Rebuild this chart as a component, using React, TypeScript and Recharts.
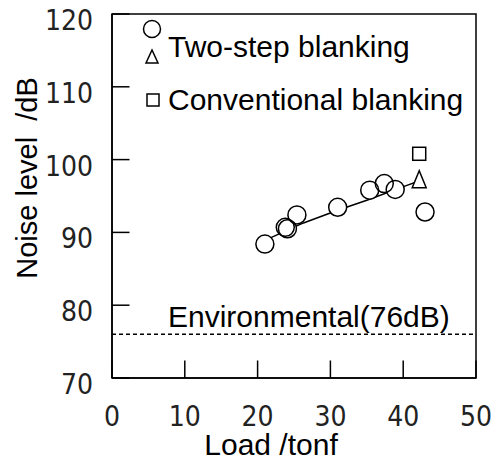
import {
  Legend,
  ReferenceArea,
  ReferenceLine,
  Scatter,
  ScatterChart,
  XAxis,
  YAxis,
} from "recharts";

// two-step blanking (circles)
const twoStepLoad = [21.0, 23.8, 24.1, 25.4, 31.0, 35.4, 37.4, 38.9, 43.0];
const twoStepNoise = [88.4, 90.7, 90.5, 92.4, 93.45, 95.8, 96.7, 95.9, 92.8];

// two-step blanking (triangle)
const triangleLoad = [42.2];
const triangleNoise = [97.1];

// conventional blanking (square)
const conventionalLoad = [42.2];
const conventionalNoise = [100.8];

// fitted trend line
const trendLoad = [21.0, 26.3, 29.8, 32.6, 35.1, 40.6, 42.0];
const trendNoise = [88.9, 91.3, 92.6, 93.6, 94.45, 96.5, 97.0];

const environmentalLevel = 76;
const environmentalLabel = "Environmental(76dB)";

const xTicks = [0, 10, 20, 30, 40, 50];
const yTicks = [70, 80, 90, 100, 110, 120];
const legendLabels = ["Two-step blanking", "Conventional blanking"];

const toPoints = (xs: number[], ys: number[]) =>
  xs.map((x, i) => ({ x, y: ys[i] }));

const TEXT_FONT = "'Liberation Sans', Arial, sans-serif";
const TICK_FONT = "'Liberation Sans Narrow', 'Arial Narrow', 'DejaVu Sans Condensed', sans-serif";
const TICK_LEN = 17.5;

const Circle = (p: any) => (
  <circle cx={p.cx} cy={p.cy} r={9} fill="none" stroke="#000" strokeWidth={1.5} />
);
const CircleBg = (p: any) => <circle cx={p.cx} cy={p.cy} r={9} fill="#fff" />;
const Triangle = (p: any) => (
  <polygon
    points={`${p.cx},${p.cy - 10} ${p.cx - 7},${p.cy + 7} ${p.cx + 7},${p.cy + 7}`}
    fill="#fff"
    stroke="#000"
    strokeWidth={1.5}
  />
);
const Square = (p: any) => (
  <rect x={p.cx - 6.5} y={p.cy - 6.5} width={13} height={13} fill="#fff" stroke="#000" strokeWidth={1.5} />
);

// ticks point inward, labels sit a little off the axis
const XTick = (p: any) => (
  <g>
    <line x1={p.x} x2={p.x} y1={p.y} y2={p.y - TICK_LEN} stroke="#000" strokeWidth={1.5} />
    <text x={p.x} y={p.y + 48} textAnchor="middle" fontFamily={TICK_FONT} fontSize={28} fill="#222">
      {p.payload.value}
    </text>
  </g>
);
const YTick = (p: any) => (
  <g>
    <line x1={p.x} x2={p.x + TICK_LEN} y1={p.y} y2={p.y} stroke="#000" strokeWidth={1.5} />
    <text x={p.x - 19} y={p.y + 16} textAnchor="end" fontFamily={TICK_FONT} fontSize={28} fill="#222">
      {p.payload.value}
    </text>
  </g>
);

const LegendBox = () => (
  <svg width={492} height={130}>
    <circle cx={152} cy={29} r={8.5} fill="none" stroke="#000" strokeWidth={1.5} />
    <polygon points="152,50 146,63 158,63" fill="none" stroke="#000" strokeWidth={1.5} />
    <text x={168} y={57} fontFamily={TEXT_FONT} fontSize={30} fill="#000">
      {legendLabels[0]}
    </text>
    <rect x={147} y={94} width={12} height={12} fill="none" stroke="#000" strokeWidth={1.5} />
    <text x={168} y={110} fontFamily={TEXT_FONT} fontSize={30} fill="#000">
      {legendLabels[1]}
    </text>
  </svg>
);

export default function App() {
  return (
    <div style={{ position: "absolute", left: 0, top: 0 }}>
      <ScatterChart width={492} height={461} margin={{ top: 14, right: 16, bottom: 0, left: 0 }}>
        <XAxis
          type="number"
          dataKey="x"
          domain={[0, 50]}
          ticks={xTicks}
          interval={0}
          height={83}
          tickSize={0}
          tickMargin={0}
          tickLine={false}
          stroke="#000"
          strokeWidth={1.5}
          tick={XTick}
          label={({ viewBox }: any) => (
            <text
              x={viewBox.x + viewBox.width / 2 - 23}
              y={455}
              textAnchor="middle"
              fontFamily={TEXT_FONT}
              fontSize={30}
              fill="#000"
            >
              Load /tonf
            </text>
          )}
        />
        <YAxis
          type="number"
          dataKey="y"
          domain={[70, 120]}
          ticks={yTicks}
          interval={0}
          width={112}
          tickSize={0}
          tickMargin={0}
          tickLine={false}
          stroke="#000"
          strokeWidth={1.5}
          tick={YTick}
          label={() => (
            <text
              transform="translate(37,178) rotate(-90)"
              textAnchor="middle"
              fontFamily={TEXT_FONT}
              fontSize={29}
              fill="#000"
              style={{ whiteSpace: "pre" }}
            >
              {"Noise level  /dB"}
            </text>
          )}
        />
        <ReferenceArea x1={0} x2={50} y1={70} y2={120} fill="none" stroke="#000" strokeWidth={1.5} />
        <ReferenceLine
          y={environmentalLevel}
          stroke="#000"
          strokeWidth={1.5}
          strokeDasharray="4 3"
          label={({ viewBox }: any) => (
            <text x={viewBox.x + 56} y={viewBox.y - 7} fontFamily={TEXT_FONT} fontSize={30} fill="#000">
              {environmentalLabel}
            </text>
          )}
        />
        <Scatter
          data={toPoints(trendLoad, trendNoise)}
          line={{ stroke: "#000", strokeWidth: 1.5 }}
          shape={() => <g />}
          isAnimationActive={false}
        />
        <Scatter data={toPoints(twoStepLoad, twoStepNoise)} shape={CircleBg} isAnimationActive={false} />
        <Scatter data={toPoints(twoStepLoad, twoStepNoise)} shape={Circle} isAnimationActive={false} />
        <Scatter data={toPoints(triangleLoad, triangleNoise)} shape={Triangle} isAnimationActive={false} />
        <Scatter data={toPoints(conventionalLoad, conventionalNoise)} shape={Square} isAnimationActive={false} />
        <Legend
          layout="horizontal"
          align="center"
          verticalAlign="middle"
          wrapperStyle={{ left: 0, top: 0, width: 492, height: 130 }}
          content={LegendBox}
        />
      </ScatterChart>
    </div>
  );
}
